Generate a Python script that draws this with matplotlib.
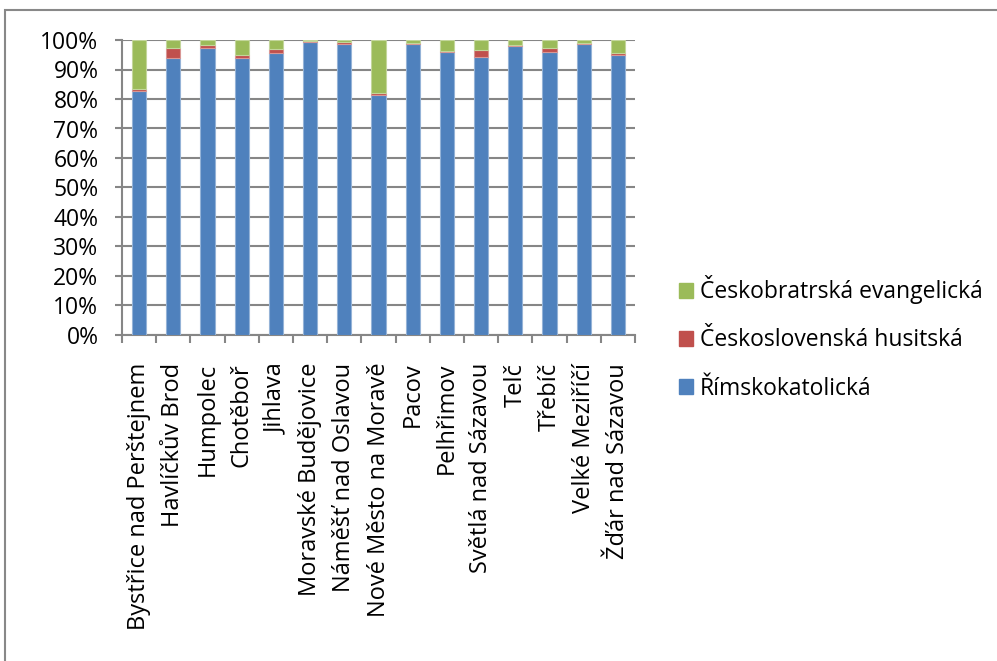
import matplotlib
matplotlib.use('Agg')
import matplotlib.pyplot as plt
from matplotlib.patches import Rectangle, Patch
from matplotlib.ticker import PercentFormatter, FixedLocator
import numpy as np

# data (share of believers, %)
towns = ['Bystřice nad Perštejnem', 'Havlíčkův Brod', 'Humpolec', 'Chotěboř',
         'Jihlava', 'Moravské Budějovice', 'Náměšť nad Oslavou',
         'Nové Město na Moravě', 'Pacov', 'Pelhřimov', 'Světlá nad Sázavou',
         'Telč', 'Třebíč', 'Velké Meziříčí', 'Žďár nad Sázavou']
rimskokat = [82.8, 93.8, 97.2, 93.8, 95.5, 99.4, 98.7, 81.4, 98.5, 96.0,
             94.3, 98.1, 96.0, 98.8, 94.9]
husitska = [0.6, 3.4, 1.2, 1.1, 1.5, 0.2, 0.6, 0.6, 0.5, 0.4,
            2.3, 0.3, 1.4, 0.1, 0.8]
evangelicka = [16.6, 2.8, 1.6, 5.1, 3.0, 0.4, 0.7, 18.0, 1.0, 3.6,
               3.4, 1.6, 2.6, 1.1, 4.3]

labels = ['Českobratrská evangelická', 'Československá husitská', 'Římskokatolická']
colors = ['#9BBB59', '#C0504D', '#4F81BD']
edges = ['#C3D69B', '#D99694', '#95B3D7']

plt.rcParams['font.family'] = ['Open Sans', 'DejaVu Sans']
fs = 16.5

fig = plt.figure(figsize=(9.97, 6.61), dpi=100)
fig.patches.append(Rectangle((0.005, -0.01), 1.2, 0.995, transform=fig.transFigure,
                             fill=False, edgecolor='#888888', linewidth=1.5))
ax = fig.add_axes([122 / 997, 1 - 335 / 661, 513 / 997, 295 / 661])

x = np.arange(len(towns))
total = np.array(rimskokat) + np.array(husitska) + np.array(evangelicka)
r = np.array(rimskokat) / total
h = np.array(husitska) / total
e = np.array(evangelicka) / total

w = 0.42
ax.bar(x, r, w, color=colors[2], edgecolor=edges[2], linewidth=0.8, zorder=3)
ax.bar(x, h, w, bottom=r, color=colors[1], edgecolor=edges[1], linewidth=0.8, zorder=3)
ax.bar(x, e, w, bottom=r + h, color=colors[0], edgecolor=edges[0], linewidth=0.8, zorder=3)

ax.set_xlim(-0.5, len(towns) - 0.5)
ax.set_ylim(0, 1)
ax.yaxis.set_major_locator(FixedLocator(np.linspace(0, 1, 11)))
ax.yaxis.set_major_formatter(PercentFormatter(1.0, decimals=0))
ax.grid(axis='y', color='#868686', linewidth=1.5, zorder=0)

for s in ['top', 'right']:
    ax.spines[s].set_visible(False)
for s in ['left', 'bottom']:
    ax.spines[s].set_color('#868686')
    ax.spines[s].set_linewidth(1.5)

ax.set_xticks(x)
ax.set_xticklabels(towns, rotation=90, fontsize=17)
ax.tick_params(axis='x', length=0, pad=20)
ax.set_xticks(np.arange(-0.5, len(towns)), minor=True)
ax.tick_params(axis='x', which='minor', length=6, width=1.5, color='#868686')
ax.tick_params(axis='y', length=5, width=1.5, color='#868686', labelsize=fs, pad=12)

handles = [Patch(color=c) for c in colors]
fig.legend(handles, labels, loc='center left', bbox_to_anchor=(679 / 997, 1 - 338 / 661),
           frameon=False, fontsize=fs, handlelength=0.6, handleheight=0.6,
           handletextpad=0.3, labelspacing=1.05, borderpad=0, borderaxespad=0)

fig.savefig('out.png', dpi=100)
